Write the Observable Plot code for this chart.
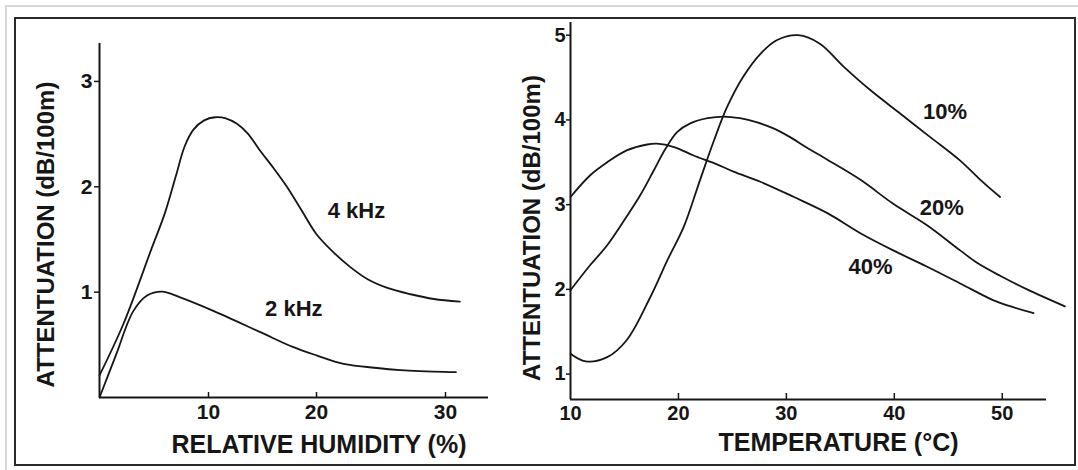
<!DOCTYPE html>
<html><head><meta charset="utf-8">
<script src="https://cdn.jsdelivr.net/npm/d3@7"></script>
<script src="https://cdn.jsdelivr.net/npm/@observablehq/plot@0.6"></script>
<style>
html,body{margin:0;padding:0;background:#fff;}
#page{position:relative;width:1078px;height:470px;overflow:hidden;background:#fff;font-family:"Liberation Sans",Arial,sans-serif;}
#scan{position:absolute;left:5px;top:5px;width:1090px;height:500px;border-left:2px solid #d8d8d8;border-top:2px solid #d8d8d8;}
#frame{position:absolute;left:14px;top:17px;width:1062px;height:449px;border:2px solid #2a2a2a;box-sizing:border-box;}
#left{position:absolute;left:0;top:0;}
#right{position:absolute;left:490px;top:0;}
svg{overflow:visible;}
</style></head><body>
<div id="page"><div id="scan"></div><div id="frame"></div><div id="left"></div><div id="right"></div></div>
<script>
// ---------- Left panel: attenuation vs relative humidity ----------
const humidity4k = [0, 2.2, 4.8, 6.0, 7.0, 7.8, 8.6, 9.6, 10.6, 11.6, 12.6, 13.6, 14.8, 16.0, 17.2, 18.6, 20.0, 21.3, 22.6, 24.0, 25.5, 27.3, 29.1, 31.1];
const atten4k    = [0.21, 0.70, 1.42, 1.75, 2.10, 2.38, 2.54, 2.63, 2.66, 2.65, 2.60, 2.51, 2.34, 2.18, 2.01, 1.78, 1.55, 1.38, 1.24, 1.12, 1.04, 0.98, 0.935, 0.91];
const humidity2k = [0, 1.5, 3.1, 4.4, 5.75, 7.4, 10.5, 14.8, 17.8, 20.0, 22.1, 24.7, 26.5, 28.0, 30.8];
const atten2k    = [0.0, 0.40, 0.82, 0.97, 1.005, 0.95, 0.82, 0.62, 0.48, 0.40, 0.32, 0.28, 0.26, 0.25, 0.24];
const humidityTicks = [10, 20, 30];
const humidityAttenTicks = [1, 2, 3];
const humiditySeries = ["4 kHz", "2 kHz"];
const humidityLabelX = [23.1, 17.9];
const humidityLabelY = [1.77, 0.84];

// ---------- Right panel: attenuation vs temperature ----------
const temp10 = [10, 11.4, 13.4, 15.2, 17.4, 19.0, 20.5, 22.0, 23.3, 24.5, 26.0, 27.6, 29.1, 31.1, 33.1, 35.3, 37.8, 40.6, 43.3, 46.1, 48.0, 49.8];
const att10  = [1.24, 1.15, 1.20, 1.40, 1.91, 2.35, 2.74, 3.29, 3.76, 4.15, 4.51, 4.78, 4.94, 5.00, 4.90, 4.63, 4.35, 4.07, 3.80, 3.52, 3.29, 3.09];
const temp20 = [10, 11.85, 13.4, 14.9, 16.5, 17.7, 18.8, 19.9, 21.1, 22.7, 24.2, 25.7, 27.3, 28.8, 30.3, 31.8, 33.8, 36.9, 39.9, 43.0, 46.1, 47.7, 49.8, 52.3, 55.8];
const att20  = [1.99, 2.29, 2.52, 2.80, 3.12, 3.40, 3.66, 3.86, 3.96, 4.02, 4.04, 4.02, 3.97, 3.90, 3.80, 3.68, 3.53, 3.29, 3.01, 2.76, 2.46, 2.31, 2.16, 2.00, 1.80];
const temp40 = [10, 11.85, 13.4, 15.2, 17.1, 18.0, 19.6, 21.4, 23.3, 25.1, 27.6, 30.7, 33.8, 36.9, 39.9, 43.0, 46.1, 49.2, 51.0, 52.9];
const att40  = [3.09, 3.35, 3.50, 3.64, 3.71, 3.72, 3.68, 3.58, 3.49, 3.39, 3.27, 3.09, 2.90, 2.66, 2.46, 2.27, 2.07, 1.87, 1.79, 1.72];
const tempTicks = [10, 20, 30, 40, 50];
const tempTickMarks = [20, 30, 40, 50];
const tempAttenTicks = [1, 2, 3, 4, 5];
const tempSeries = ["10%", "20%", "40%"];
const tempLabelX = [44.7, 44.4, 37.8];
const tempLabelY = [4.10, 2.96, 2.26];

const ink = "#161616";
const font = "'Liberation Sans', Arial, Helvetica, sans-serif";
const narrow = "'Liberation Sans Narrow', 'Arial Narrow', 'Liberation Sans', Arial, sans-serif";
const intFmt = d3.format("d");
const zip = (xs, ys) => xs.map((x, i) => ({x, y: ys[i]}));

// make numeric tick labels bold, condensed and larger
function boldTicks(svg, size) {
  svg.querySelectorAll("text").forEach(t => {
    if (/^\d+$/.test(t.textContent.trim())) {
      t.style.fontSize = size + "px";
      t.style.fontWeight = "bold";
      t.style.fontFamily = narrow;
      t.style.fill = ink;
    }
  });
}

const left = Plot.plot({
  width: 490, height: 470,
  marginLeft: 99, marginRight: 2, marginTop: 43, marginBottom: 73,
  style: {background: "transparent", fontFamily: font, color: ink, overflow: "visible"},
  x: {type: "linear", domain: [0, 10, 20, 30, 33.3], range: [99, 208, 316, 445, 488]},
  y: {domain: [0, 3.36]},
  marks: [
    Plot.axisY({ticks: humidityAttenTicks, tickFormat: intFmt, tickSize: 5, tickPadding: 2, label: null, strokeWidth: 1.5}),
    Plot.axisX({ticks: humidityTicks, tickSize: 5, dy: -5, tickFormat: () => "", label: null, strokeWidth: 1.5}),
    Plot.axisX({ticks: humidityTicks, tickFormat: intFmt, tickSize: 0, tickPadding: 7, label: null}),
    Plot.ruleX([0], {stroke: ink, strokeWidth: 2}),
    Plot.ruleY([0], {stroke: ink, strokeWidth: 2}),
    Plot.line(zip(humidity4k, atten4k), {x: "x", y: "y", curve: "catmull-rom", stroke: ink, strokeWidth: 1.8}),
    Plot.line(zip(humidity2k, atten2k), {x: "x", y: "y", curve: "catmull-rom", stroke: ink, strokeWidth: 1.8}),
    Plot.text(humiditySeries, {x: (d, i) => humidityLabelX[i], y: (d, i) => humidityLabelY[i], text: d => d, fontSize: 22, fontWeight: "bold", fill: ink, lineAnchor: "middle"}),
    Plot.text(["ATTENTUATION (dB/100m)"], {frameAnchor: "left", text: d => d, rotate: -90, dx: -53, dy: 14, fontSize: 24, fontWeight: "bold", fill: ink, textAnchor: "middle", lineAnchor: "middle"}),
    Plot.text(["RELATIVE HUMIDITY (%)"], {frameAnchor: "bottom", text: d => d, dx: 25, dy: 55, fontSize: 25, fontWeight: "bold", fill: ink, lineAnchor: "bottom", letterSpacing: 1})
  ]
});
boldTicks(left, 21);
document.getElementById("left").appendChild(left);

const right = Plot.plot({
  width: 588, height: 470,
  marginLeft: 80, marginRight: 32, marginTop: 22, marginBottom: 71,
  style: {background: "transparent", fontFamily: font, color: ink, overflow: "visible"},
  x: {domain: [10, 54.1]},
  y: {domain: [0.7, 5.15]},
  marks: [
    Plot.axisY({ticks: tempAttenTicks, tickFormat: intFmt, tickSize: 4, tickPadding: 1, label: null, strokeWidth: 1.5}),
    Plot.axisX({ticks: tempTickMarks, tickSize: 6, dy: -6, tickFormat: () => "", label: null, strokeWidth: 1.5}),
    Plot.axisX({ticks: tempTicks, tickFormat: intFmt, tickSize: 0, tickPadding: 6, label: null}),
    Plot.ruleX([10], {stroke: ink, strokeWidth: 2}),
    Plot.ruleY([0.7], {stroke: ink, strokeWidth: 2}),
    Plot.line(zip(temp10, att10), {x: "x", y: "y", curve: "catmull-rom", stroke: ink, strokeWidth: 1.8}),
    Plot.line(zip(temp20, att20), {x: "x", y: "y", curve: "catmull-rom", stroke: ink, strokeWidth: 1.8}),
    Plot.line(zip(temp40, att40), {x: "x", y: "y", curve: "catmull-rom", stroke: ink, strokeWidth: 1.8}),
    Plot.text(tempSeries, {x: (d, i) => tempLabelX[i], y: (d, i) => tempLabelY[i], text: d => d, fontSize: 22, fontWeight: "bold", fill: ink, lineAnchor: "middle"}),
    Plot.text(["ATTENTUATION (dB/100m)"], {frameAnchor: "left", text: d => d, rotate: -90, dx: -38, dy: 17, fontSize: 24, fontWeight: "bold", fill: ink, textAnchor: "middle", lineAnchor: "middle"}),
    Plot.text(["TEMPERATURE (°C)"], {frameAnchor: "bottom", text: d => d, dx: 30, dy: 51, fontSize: 25, fontWeight: "bold", fill: ink, lineAnchor: "bottom", letterSpacing: 1})
  ]
});
boldTicks(right, 20);
document.getElementById("right").appendChild(right);
</script>
</body></html>
